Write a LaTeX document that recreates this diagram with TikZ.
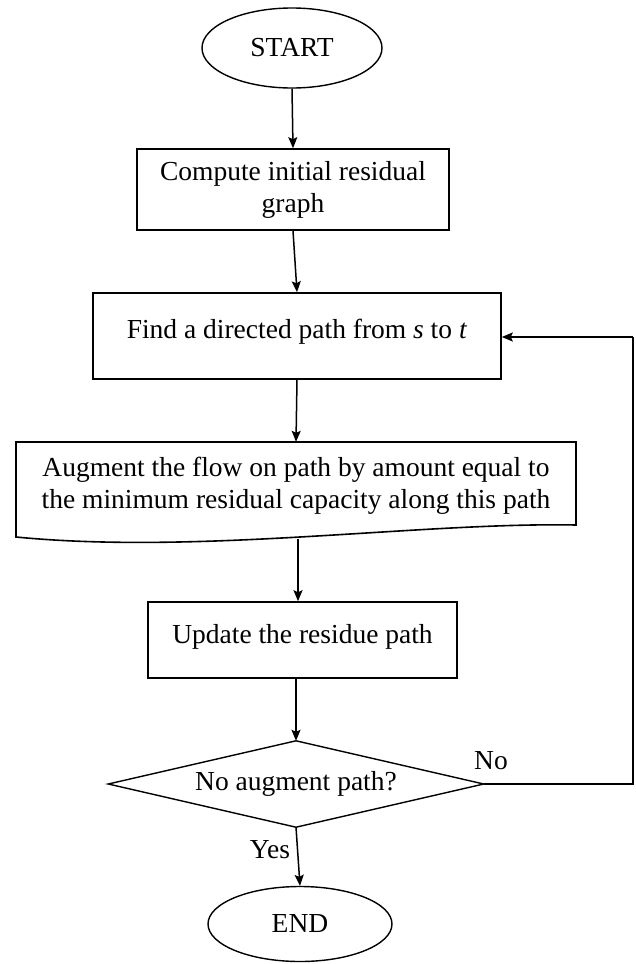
\documentclass[tikz,border=0pt]{standalone}
\usepackage{fontspec}
\setmainfont{Liberation Serif}
\usetikzlibrary{shapes.geometric,arrows.meta}
\begin{document}
\begin{tikzpicture}[x=1pt,y=-1pt,
  every node/.style={font=\fontsize{27.5}{32}\selectfont, inner sep=0pt},
  procbox/.style={draw, line width=1.6pt, rectangle, align=center},
  termnode/.style={draw, line width=1.4pt, ellipse},
  flowarrow/.style={draw, line width=1.5pt, -{Stealth[length=11pt,width=9pt,inset=2pt]}},
  flowline/.style={draw, line width=1.5pt}]
\useasboundingbox (0,0) rectangle (636,964);

\node[termnode, minimum width=180pt, minimum height=80pt] (start) at (292,48) {START};
\node[procbox, minimum width=312pt, minimum height=81pt] (init) at (293,189.5)
  {Compute initial residual\\graph};
\node[procbox, minimum width=408pt, minimum height=86pt, text depth=14pt] (find) at (297,336)
  {Find a directed path from \textit{s} to \textit{t}};
\node[align=center, minimum width=560pt, minimum height=88pt] (aug) at (296,486)
  {Augment the flow on path by amount equal to\\the minimum residual capacity along this path};
\draw[line width=1.6pt] (16,442) -- (576,442) -- (576,525)
  .. controls (420,522) and (200,555) .. (16,537) -- cycle;
\coordinate (augb) at (298,538.5);
\node[procbox, minimum width=309pt, minimum height=76pt, text depth=13pt] (upd) at (302.5,640)
  {Update the residue path};
\node[minimum width=375pt, minimum height=86pt] (dec) at (296,784)
  {No augment path?};
\draw[line width=1.4pt] (dec.west) -- (dec.north) -- (dec.east) -- (dec.south) -- cycle;
\node[termnode, minimum width=184pt, minimum height=75pt] (end) at (300,924) {END};
\coordinate (loopa) at (633,784);
\coordinate (loopb) at (633,337);

\draw[flowarrow] (start.south) -- (init.north);
\draw[flowarrow] (init.south) -- (find.north);
\draw[flowarrow] (find.south) -- (aug.north);
\draw[flowarrow] (augb) -- (augb |- upd.north);
\draw[flowarrow] (upd.south -| dec.north) -- (dec.north);
\draw[flowarrow] (dec.south) -- (end.north);
\draw[flowline] (dec.east) -- (loopa) -- (loopb);
\draw[flowarrow] (loopb) -- (find.east |- loopb);

\node (yes) at (270,850) {Yes};
\node (no) at (491,761) {No};
\end{tikzpicture}
\end{document}
